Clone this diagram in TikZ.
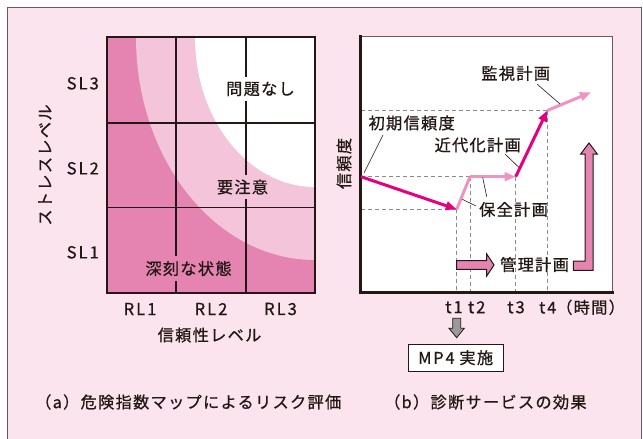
\documentclass[tikz,border=0pt]{standalone}
\usepackage{fontspec}
\setmainfont{Noto Sans CJK JP}[LetterSpace=8, FakeBold=0.8]
\newfontfamily\latinf{Noto Sans CJK JP}[LetterSpace=12, FakeBold=0.8]
\usetikzlibrary{arrows.meta}
\definecolor{bgpink}{HTML}{FBE4EE}
\definecolor{framec}{HTML}{6A5A5F}
\definecolor{darkp}{HTML}{E684B1}
\definecolor{lightp}{HTML}{F3C4DA}
\definecolor{magc}{HTML}{E4007F}
\definecolor{pinkc}{HTML}{F192C2}
\definecolor{txt}{HTML}{231815}
\definecolor{dashc}{HTML}{8A8A8A}
\definecolor{grayarr}{HTML}{9A9A9A}
\begin{document}
\begin{tikzpicture}[x=1pt,y=-1pt,
  every node/.style={text=txt, inner sep=0pt, font=\fontsize{16.2}{19}\selectfont},
  lat/.style={font=\fontsize{16.6}{19}\selectfont\latinf},
  gridline/.style={draw=txt, line width=1.6pt},
  dashln/.style={draw=dashc, line width=0.9pt, dash pattern=on 4pt off 3pt},
  magarrow/.style={draw=magc, line width=3pt, -{Triangle[length=11pt,width=8.5pt]}},
  pinkarrow/.style={draw=pinkc, line width=3pt, -{Triangle[length=11pt,width=8.5pt]}},
  pinkline/.style={draw=pinkc, line width=3pt},
  leader/.style={draw=txt, line width=0.6pt},
  blockarr/.style={fill=darkp, draw=txt, line width=1pt, line join=miter}]
\useasboundingbox (0,0) rectangle (643,439);
% outer frame
\fill[bgpink] (7,7) rectangle (641,446);
\draw[framec, line width=1pt] (7,446) -- (7,7) -- (641,7) -- (641,446);

% ---------- (a) risk map ----------
\begin{scope}
  \clip (106.7,37) rectangle (315,292.7);
  \fill[darkp] (106.7,37) rectangle (315,292.7);
  \fill[lightp] (315,37) ellipse [x radius=179pt, y radius=223pt];
  \fill[white] (315,37) ellipse [x radius=120pt, y radius=150pt];
\end{scope}
\draw[gridline] (106.7,37) rectangle (315,292.7);
\draw[gridline] (175.7,37) -- (175.7,292.7);
\draw[gridline] (246,37) -- (246,292.7);
\draw[gridline] (106.7,122.7) -- (315,122.7);
\draw[gridline] (106.7,207.5) -- (315,207.5);

\node[fill=white, inner xsep=2pt, inner ysep=5pt] (ok) at (260.5,89) {問題なし};
\node[fill=lightp, inner xsep=2pt, inner ysep=5pt] (warn) at (242.5,187) {要注意};
\node[fill=darkp, inner xsep=2pt, inner ysep=5pt] (bad) at (188.5,268.5) {深刻な状態};

\node[lat, anchor=east] (sl3) at (99,83.3) {SL3};
\node[lat, anchor=east] (sl2) at (99,168.3) {SL2};
\node[lat, anchor=east] (sl1) at (99,252.3) {SL1};
\node[rotate=90] (ylab) at (45,165) {ストレスレベル};
\node[lat] (rl1) at (140,309) {RL1};
\node[lat] (rl2) at (211,309) {RL2};
\node[lat] (rl3) at (280.5,309) {RL3};
\node (xlab) at (209.5,335) {信頼性レベル};
\node[anchor=west] (capa) at (35,402) {（a）危険指数マップによるリスク評価};

% ---------- (b) diagnosis effect ----------
\fill[white] (360.7,36.7) rectangle (612.7,292.3);
\draw[framec, line width=1pt] (360.7,36.7) -- (612.7,36.7) -- (612.7,292.3);

\coordinate (P0) at (361,176.7);
\coordinate (P1) at (456.7,209.3);
\coordinate (P2) at (470,176.7);
\coordinate (P3) at (515.7,176.7);
\coordinate (P4) at (547.3,110.5);
\coordinate (P5) at (591,92.3);
\coordinate (B1) at (456.7,292);
\coordinate (B2) at (470,292);
\coordinate (B3) at (515.7,292);
\coordinate (B4) at (547.3,292);
\coordinate (L1) at (361,209.3);
\coordinate (L4) at (361,110.5);

\draw[dashln] (P0) -- (P2);
\draw[dashln] (L1) -- (P1);
\draw[dashln] (L4) -- (P4);
\draw[dashln] (P1) -- (B1);
\draw[dashln] (P2) -- (B2);
\draw[dashln] (P3) -- (B3);
\draw[dashln] (P4) -- (B4);

\draw[txt, line width=3pt, line cap=rect] (360.7,36.7) -- (360.7,292.3) -- (612.7,292.3);

\draw[pinkline] (P1) -- (P2);
\draw[pinkarrow] (P2) -- (P3);
\draw[magarrow] (P0) -- (P1);
\draw[pinkarrow] (P4) -- (P5);
\draw[magarrow] (P3) -- (P4);

% labels and leaders
\node (kanshi) at (515.7,73.3) {監視計画};
\node (shoki) at (411.7,123) {初期信頼度};
\node (kindai) at (477.7,145) {近代化計画};
\node (hozen) at (513.5,209.5) {保全計画};
\coordinate (k1) at (537,84);   \coordinate (k2) at (560,104);
\coordinate (s1) at (383,135);  \coordinate (s2) at (364,173);
\coordinate (m1) at (505,154);  \coordinate (m2) at (519,167.5);
\coordinate (h1) at (476,206);  \coordinate (h2) at (462.3,199.3);
\coordinate (h3) at (486.7,196.7); \coordinate (h4) at (482.7,177.5);
\draw[leader] (k1) -- (k2);
\draw[leader] (s1) -- (s2);
\draw[leader] (m1) -- (m2);
\draw[leader] (h1) -- (h2);
\draw[leader] (h3) -- (h4);

% management plan block arrow
\draw[blockarr] (456.5,260.7) -- (486.7,260.7) -- (486.7,254) -- (494,265) -- (486.7,276)
  -- (486.7,269.3) -- (456.5,269.3) -- cycle;
\node (kanri) at (534.5,264.5) {管理計画};
% L-shaped upward arrow
\draw[blockarr] (573.3,261) -- (585,261) -- (585,154) -- (580.7,154) -- (589,143)
  -- (597.3,154) -- (593,154) -- (593,270.3) -- (573.3,270.3) -- cycle;

% time axis labels
\node[lat] (t1) at (454,307.3) {t1};
\node[lat] (t2) at (476.7,307.3) {t2};
\node[lat] (t3) at (516,307.3) {t3};
\node[anchor=west] (t4) at (539,307.3) {{\latinf t4}（時間）};

% gray down arrow and MP4 box
\draw[fill=grayarr, draw=txt, line width=0.8pt, line join=miter]
  (452.7,318.3) -- (460.7,318.3) -- (460.7,328.3) -- (464.3,328.3) -- (456.7,337.7)
  -- (449,328.3) -- (452.7,328.3) -- cycle;
\node[draw=txt, fill=white, line width=0.8pt, minimum width=95pt, minimum height=26.7pt] (mp4) at (455.7,357.7) {{\latinf MP4} 実施};

\node[rotate=90] (ylabb) at (344,163.5) {信頼度};
\node[anchor=west] (capb) at (384,402) {（b）診断サービスの効果};
\end{tikzpicture}
\end{document}
